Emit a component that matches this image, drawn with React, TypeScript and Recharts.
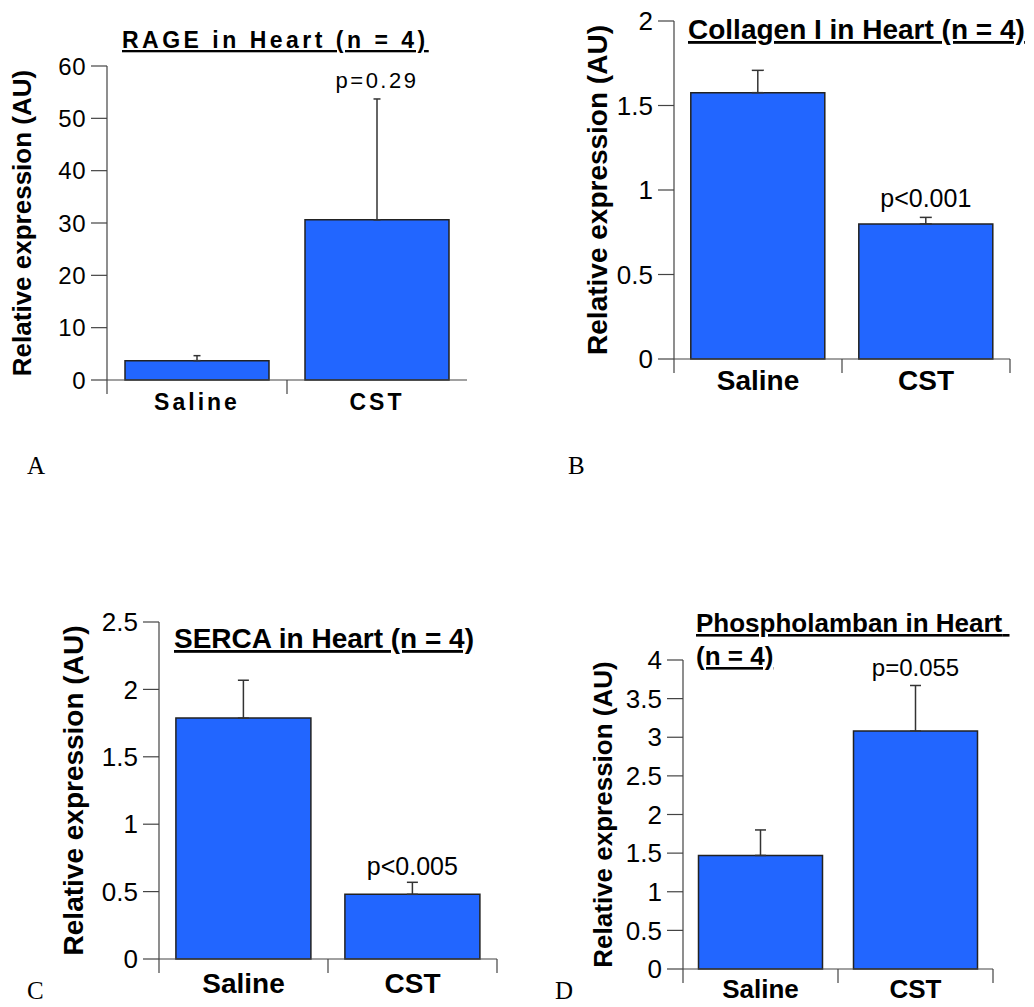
import React from "react"
import { BarChart, Bar, XAxis, YAxis, ErrorBar, LabelList } from "recharts"

// groups shared by all four panels
const groups = ["Saline", "CST"]

// A: RAGE
const rageMean = [3.7, 30.6]
const rageSem = [0.95, 23.1]
const rageP = ["", "p=0.29"]
const rageTicks = [0, 10, 20, 30, 40, 50, 60]

// B: Collagen I
const collagenMean = [1.576, 0.799]
const collagenSem = [0.132, 0.039]
const collagenP = ["", "p<0.001"]
const collagenTicks = [0, 0.5, 1, 1.5, 2]

// C: SERCA
const sercaMean = [1.787, 0.48]
const sercaSem = [0.281, 0.089]
const sercaP = ["", "p<0.005"]
const sercaTicks = [0, 0.5, 1, 1.5, 2, 2.5]

// D: Phospholamban
const plbMean = [1.47, 3.08]
const plbSem = [0.33, 0.59]
const plbP = ["", "p=0.055"]
const plbTicks = [0, 0.5, 1, 1.5, 2, 2.5, 3, 3.5, 4]

const FONT = "'Liberation Sans', Arial, Helvetica, sans-serif"
const SERIF = "'Liberation Serif', 'DejaVu Serif', serif"
const AXIS = "#444"
const BAR_FILL = "#2266ff"
const BAR_STROKE = "#222"

const panels = [
  {
    mean: rageMean, sem: rageSem, p: rageP, ticks: rageTicks,
    axisX: 107, plotTop: 66, plotBottom: 380, plotRight: 467,
    tickFont: 24, tickSpacing: 0.5, xFont: 23, xSpacing: 3, xDy: 30,
    yFont: 26, yOffset: 85, pFont: 22, pSpacing: 2.5, pGap: 11,
    cap: 3.5, endTick: false,
  },
  {
    mean: collagenMean, sem: collagenSem, p: collagenP, ticks: collagenTicks,
    axisX: 674, plotTop: 21, plotBottom: 359, plotRight: 1010,
    tickFont: 26, tickSpacing: 0, xFont: 28, xSpacing: 0, xDy: 31,
    yFont: 28, yOffset: 77, pFont: 25, pSpacing: 0, pGap: 10,
    cap: 6, endTick: true,
  },
  {
    mean: sercaMean, sem: sercaSem, p: sercaP, ticks: sercaTicks,
    axisX: 159, plotTop: 622, plotBottom: 959, plotRight: 497,
    tickFont: 26, tickSpacing: 0, xFont: 28, xSpacing: 0, xDy: 34,
    yFont: 28, yOffset: 86, pFont: 25, pSpacing: 0, pGap: 7,
    cap: 5.5, endTick: true,
  },
  {
    mean: plbMean, sem: plbSem, p: plbP, ticks: plbTicks,
    axisX: 683, plotTop: 660, plotBottom: 969, plotRight: 993,
    tickFont: 26, tickSpacing: 0, xFont: 26, xSpacing: 0, xDy: 29,
    yFont: 26, yOffset: 80, pFont: 24, pSpacing: 0, pGap: 9,
    cap: 5.5, endTick: true,
  },
]

function Panel({ cfg }: { cfg: any }) {
  const data = groups.map((g, i) => ({ group: g, mean: cfg.mean[i], sem: cfg.sem[i], p: cfg.p[i] }))
  const plotW = cfg.plotRight - cfg.axisX
  const plotH = cfg.plotBottom - cfg.plotTop
  const W = 100 + plotW + 10
  const H = 20 + plotH + 45
  const axisY = 20 + plotH
  const band = plotW / groups.length
  const yMax = cfg.ticks[cfg.ticks.length - 1]

  const renderXTick = (props: any) => {
    const { x, payload, index } = props
    const left = x - band / 2
    const right = x + band / 2
    const last = index === groups.length - 1
    return (
      <g>
        <line x1={left} x2={left} y1={axisY} y2={axisY + 14} stroke={AXIS} strokeWidth={1.2} />
        {last && cfg.endTick && (
          <line x1={right} x2={right} y1={axisY} y2={axisY + 14} stroke={AXIS} strokeWidth={1.2} />
        )}
        <text
          x={x}
          y={axisY + cfg.xDy}
          textAnchor="middle"
          fontSize={cfg.xFont}
          fontWeight="bold"
          letterSpacing={cfg.xSpacing}
          fontFamily={FONT}
          fill="#000"
        >
          {payload.value}
        </text>
      </g>
    )
  }

  const renderYLabel = (props: any) => {
    const vb = props.viewBox || {}
    const cx = vb.x + vb.width - cfg.yOffset
    const cy = vb.y + vb.height / 2
    return (
      <text
        x={cx}
        y={cy}
        transform={`rotate(-90 ${cx} ${cy})`}
        textAnchor="middle"
        dominantBaseline="central"
        fontSize={cfg.yFont}
        fontWeight="bold"
        fontFamily={FONT}
        fill="#000"
      >
        Relative expression (AU)
      </text>
    )
  }

  const renderP = (props: any) => {
    const vb = props.viewBox || props
    const { x, y, width, height } = vb
    const i = props.index
    const label = props.value
    if (!label) return null
    const row = data[i]
    // top of the error bar, from the bar's own pixel/value ratio
    const errTop = y - (row.sem * height) / row.mean
    return (
      <text
        x={x + width / 2}
        y={errTop - cfg.pGap}
        textAnchor="middle"
        fontSize={cfg.pFont}
        letterSpacing={cfg.pSpacing}
        fontFamily={FONT}
        fill="#000"
      >
        {label}
      </text>
    )
  }

  return (
    <div style={{ position: "absolute", left: cfg.axisX - 100, top: cfg.plotTop - 20 }}>
      <BarChart
        width={W}
        height={H}
        data={data}
        margin={{ top: 20, right: 10, left: 0, bottom: 0 }}
        barCategoryGap="10%"
      >
        <XAxis
          dataKey="group"
          height={45}
          interval={0}
          axisLine={{ stroke: AXIS, strokeWidth: 1.2 }}
          tickLine={false}
          tick={renderXTick}
        />
        <YAxis
          width={100}
          type="number"
          domain={[0, yMax]}
          ticks={cfg.ticks}
          interval={0}
          tickSize={16}
          tickMargin={5}
          axisLine={{ stroke: AXIS, strokeWidth: 1.2 }}
          tickLine={{ stroke: AXIS, strokeWidth: 1.2 }}
          tick={{ fontSize: cfg.tickFont, fill: "#000", fontFamily: FONT, letterSpacing: cfg.tickSpacing }}
          label={renderYLabel}
        />
        <Bar dataKey="mean" fill={BAR_FILL} stroke={BAR_STROKE} strokeWidth={1.5} isAnimationActive={false}>
          <ErrorBar
            dataKey={(d: any) => [0, d.sem]}
            direction="y"
            width={cfg.cap}
            stroke="#333"
            strokeWidth={1.5}
            isAnimationActive={false}
          />
          <LabelList dataKey="p" content={renderP} />
        </Bar>
      </BarChart>
    </div>
  )
}

export default function App() {
  return (
    <div
      style={{
        position: "absolute",
        left: 0,
        top: 0,
        width: 1034,
        height: 1007,
        background: "#fff",
        fontFamily: FONT,
        overflow: "hidden",
      }}
    >
      {panels.map((cfg, i) => (
        <Panel key={i} cfg={cfg} />
      ))}
      <svg
        width={1034}
        height={1007}
        style={{ position: "absolute", left: 0, top: 0, pointerEvents: "none" }}
      >
        <g fontFamily={FONT} fontWeight="bold" fill="#000" textDecoration="underline">
          <text x={122} y={48} fontSize={23} letterSpacing={3.5}>RAGE in Heart (n = 4)</text>
          <text x={688} y={39} fontSize={28}>Collagen I in Heart (n = 4)</text>
          <text x={174} y={648} fontSize={28}>SERCA in Heart (n = 4)</text>
          <text x={696} y={632} fontSize={26}>Phospholamban in Heart{"\u00a0"}</text>
          <text x={696} y={665} fontSize={26}>(n = 4)</text>
        </g>
        <g fontFamily={SERIF} fontSize={25} fill="#000">
          <text x={27} y={474}>A</text>
          <text x={568} y={474}>B</text>
          <text x={27} y={999}>C</text>
          <text x={555} y={999}>D</text>
        </g>
      </svg>
    </div>
  )
}
